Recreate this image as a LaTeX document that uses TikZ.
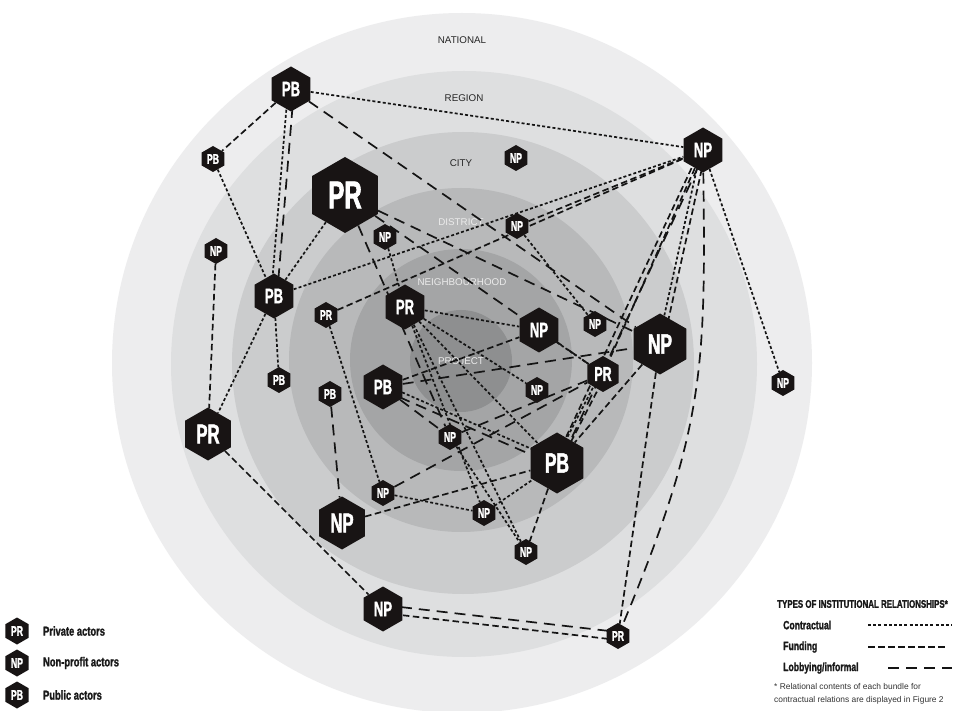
\documentclass[tikz,border=0pt]{standalone}
\usepackage{fontspec}
\setmainfont{Liberation Sans}
\newfontfamily\hexfont[FakeStretch=0.62, FakeBold=1.6]{Liberation Sans}
\newfontfamily\legfont[FakeStretch=0.72, FakeBold=1.4]{Liberation Sans}
\usetikzlibrary{shapes.geometric, positioning}
\definecolor{ringnat}{HTML}{EDEDEE}
\definecolor{ringreg}{HTML}{DEDFE0}
\definecolor{ringcity}{HTML}{CBCCCD}
\definecolor{ringdis}{HTML}{B8B9BA}
\definecolor{ringnbh}{HTML}{A4A5A6}
\definecolor{ringprj}{HTML}{8E8F90}
\definecolor{hexfill}{HTML}{181414}
\definecolor{linkcol}{HTML}{141414}
\pgfdeclarelayer{rings}
\pgfdeclarelayer{links}
\pgfsetlayers{rings,links,main}

\begin{document}
\begin{tikzpicture}[x=1pt, y=-1pt,
      hex/.style={regular polygon, regular polygon sides=6, shape border rotate=30,
                  fill=hexfill, text=white, inner sep=0pt},
      hexs/.style={hex, minimum size=26pt, font=\hexfont\bfseries\fontsize{14}{14}\selectfont},
      hexr/.style={hex, minimum size=36pt, font=\hexfont\bfseries\fontsize{20}{20}\selectfont},
      hexm/.style={hex, minimum size=45pt, font=\hexfont\bfseries\fontsize{21}{21}\selectfont},
      hexl/.style={hex, minimum size=53pt, font=\hexfont\bfseries\fontsize{27}{27}\selectfont},
      hexxl/.style={hex, minimum size=61pt, font=\hexfont\bfseries\fontsize{28}{28}\selectfont},
      hexxxl/.style={hex, minimum size=76pt, font=\hexfont\bfseries\fontsize{39}{39}\selectfont},
      link/.style={line width=1.7pt, linkcol},
      contract/.style={link, dash pattern=on 3pt off 2.2pt},
      fund/.style={link, dash pattern=on 6.5pt off 3.5pt},
      lobby/.style={link, dash pattern=on 11pt off 7pt},
      ringdark/.style={font=\fontsize{9.8}{10}\selectfont, text=black!85},
      ringlight/.style={font=\fontsize{9.8}{10}\selectfont, text=white!92!black},
      legtext/.style={font=\legfont\bfseries\fontsize{13}{13}\selectfont, text=black!90,
                      inner sep=0pt, anchor=west},
      reltext/.style={legtext, font=\legfont\bfseries\fontsize{12}{12}\selectfont}
    ]
  \useasboundingbox (0,0) rectangle (970,711);
  \begin{pgfonlayer}{rings}
    \fill[white] (0,0) rectangle (970,711);
    \fill[ringnat] (462,363) circle[radius=350pt];
    \fill[ringreg] (464,364) circle[radius=293pt];
    \fill[ringcity] (463,363) circle[radius=231pt];
    \fill[ringdis] (461,360) circle[radius=172pt];
    \fill[ringnbh] (461,360) circle[radius=111pt];
    \fill[ringprj] (461,361) circle[radius=51pt];
    \node[ringdark] (labNat) at (462,40) {NATIONAL};
    \node[ringdark] (labReg) at (464,98) {REGION};
    \node[ringdark] (labCity) at (461,163) {CITY};
    \node[ringlight] (labDis) at (461,222) {DISTRICT};
    \node[ringlight] (labNbh) at (462,282) {NEIGHBOURHOOD};
    \node[ringlight] (labPrj) at (461,361) {PROJECT};
  \end{pgfonlayer}

  \node[hexm] (pbNatA) at (291,89) {PB};
  \node[hexs] (pbNatB) at (213,159) {PB};
  \node[hexm] (npNatA) at (703,150) {NP};
  \node[hexs] (npNatB) at (783,383) {NP};
  \node[hexs] (prNatA) at (618,636) {PR};
  \node[hexs] (npRegA) at (216,251) {NP};
  \node[hexl] (prRegA) at (208,434) {PR};
  \node[hexm] (npRegB) at (383,609) {NP};
  \node[hexxxl] (prCityA) at (345,195) {PR};
  \node[hexs] (npCityA) at (516,158) {NP};
  \node[hexm] (pbCityA) at (274,296) {PB};
  \node[hexxl] (npCityB) at (660,344) {NP};
  \node[hexl] (npCityC) at (342,523) {NP};
  \node[hexs] (npCityD) at (526,552) {NP};
  \node[hexs] (pbCityB) at (279,380) {PB};
  \node[hexs] (npDisA) at (517,226) {NP};
  \node[hexs] (npDisB) at (385,237) {NP};
  \node[hexs] (prDisA) at (326,315) {PR};
  \node[hexs] (pbDisA) at (330,394) {PB};
  \node[hexs] (npDisC) at (595,324) {NP};
  \node[hexxl] (pbDisB) at (557,463) {PB};
  \node[hexs] (npDisD) at (383,493) {NP};
  \node[hexs] (npDisE) at (484,513) {NP};
  \node[hexr] (prDisB) at (603,374) {PR};
  \node[hexm] (prNbhA) at (405,307) {PR};
  \node[hexm] (npNbhA) at (539,330) {NP};
  \node[hexm] (pbNbhA) at (383,387) {PB};
  \node[hexs] (npNbhB) at (537,390) {NP};
  \node[hexs] (npNbhC) at (450,437) {NP};

  \begin{pgfonlayer}{links}
    \draw[contract] (pbNatA) -- (npNatA);
    \draw[contract] ([xshift=-3pt]pbNatA.center) -- ([xshift=-3pt]pbCityA.center);
    \draw[lobby] ([xshift=3pt]pbNatA.center) -- ([xshift=3pt]pbCityA.center);
    \draw[fund] (pbNatA) -- (pbNatB);
    \draw[lobby] (pbNatA) -- (npCityB);
    \draw[contract] (pbNatB) -- (pbCityA);
    \draw[fund] (npRegA) -- (prRegA);
    \draw[contract] (pbCityA) -- (prRegA);
    \draw[contract] (pbCityA) -- (pbCityB);
    \draw[contract] (pbCityA) -- (npNatA);
    \draw[fund] (prDisA) -- (npNatA);
    \draw[fund] (npDisA) -- (npNatA);
    \draw[contract] (prCityA) -- (pbCityA);
    \draw[lobby] (prCityA) -- (npNbhC);
    \draw[lobby] (prCityA) -- (npCityB);
    \draw[lobby] (prCityA) -- (prDisB);
    \draw[contract] (npDisB) -- (prNbhA);
    \draw[contract] (prNbhA) -- (npNbhA);
    \draw[contract] (prNbhA) -- (npNbhB);
    \draw[contract] (prNbhA) -- (pbDisB);
    \draw[contract] (prNbhA) -- (npDisE);
    \draw[contract] (prNbhA) -- (npCityD);
    \draw[contract] (prDisA) -- (npDisD);
    \draw[contract] (npDisA) -- (npDisC);
    \draw[contract] (npNatA) -- (npNatB);
    \draw[contract] ([xshift=-2pt]npNatA.center) -- ([xshift=-2pt]npCityB.center);
    \draw[fund] ([xshift=3pt]npNatA.center) -- ([xshift=3pt]npCityB.center);
    \draw[fund] (npNatA) -- (prDisB);
    \draw[fund] ([xshift=-3pt]npNatA.center) -- ([xshift=-3pt]pbDisB.center);
    \draw[lobby] ([xshift=3pt]npNatA.center) -- ([xshift=3pt]pbDisB.center);
    \draw[lobby] (npNatA) .. controls (706,370) and (704,430) .. (prNatA);
    \draw[fund] (npCityB) -- (prNatA);
    \draw[fund] (npCityB) -- (pbDisB);
    \draw[lobby] ([yshift=4pt]npRegB.center) -- ([yshift=4pt]prNatA.center);
    \draw[fund] ([yshift=-4pt]npRegB.center) -- ([yshift=-4pt]prNatA.center);
    \draw[fund] (prRegA) -- (npRegB);
    \draw[lobby] (pbNbhA) -- (npCityB);
    \draw[fund] (pbNbhA) -- (npNbhA);
    \draw[contract] ([yshift=3pt]pbNbhA.center) -- ([yshift=3pt]pbDisB.center);
    \draw[lobby] ([yshift=-3pt]pbNbhA.center) -- ([yshift=-3pt]pbDisB.center);
    \draw[lobby] (pbNbhA) -- (npNbhC);
    \draw[contract] (npNbhA) -- (prDisB);
    \draw[contract] ([xshift=-3pt]prDisB.center) -- ([xshift=-3pt]pbDisB.center);
    \draw[fund] ([xshift=3pt]prDisB.center) -- ([xshift=3pt]pbDisB.center);
    \draw[lobby] (npDisD) -- (prDisB);
    \draw[lobby] (npNbhC) -- (prDisB);
    \draw[contract] (npDisD) -- (npDisE);
    \draw[contract] (npDisE) -- (pbDisB);
    \draw[contract] (npNbhC) -- (npCityD);
    \draw[fund] (npCityC) -- (pbDisB);
    \draw[fund] (pbDisB) -- (npCityD);
    \draw[lobby] (pbDisA) -- (npCityC);
  \end{pgfonlayer}

  \node[hexs, minimum size=27pt] (lgPR) at (17,631) {PR};
  \node[hexs, minimum size=27pt] (lgNP) at (17,663) {NP};
  \node[hexs, minimum size=27pt] (lgPB) at (17,695) {PB};
  \node[legtext, right=14pt of lgPR] (lgPRtxt) {Private actors};
  \node[legtext, right=14pt of lgNP] (lgNPtxt) {Non-profit actors};
  \node[legtext, right=14pt of lgPB] (lgPBtxt) {Public actors};

  \node[legtext, font=\legfont\bfseries\fontsize{11}{11}\selectfont] (relTitle) at (777,604)
    {TYPES OF INSTITUTIONAL RELATIONSHIPS*};
  \node[reltext] (relCon) at (783,625) {Contractual};
  \node[reltext] (relFund) at (783,647) {Funding};
  \node[reltext] (relLob) at (783,668) {Lobbying/informal};
  \coordinate (conA) at (868,625);
  \coordinate (conB) at (952,625);
  \coordinate (fundA) at (868,647);
  \coordinate (fundB) at (946,647);
  \coordinate (lobA) at (888,668);
  \coordinate (lobB) at (952,668);
  \draw[contract] (conA) -- (conB);
  \draw[fund] (fundA) -- (fundB);
  \draw[lobby] (lobA) -- (lobB);
  \node[anchor=west, align=left, inner sep=0pt, font=\fontsize{8.4}{13}\selectfont, text=black!80]
    (relNote) at (774,693.5)
    {* Relational contents of each bundle for\\contractual relations are displayed in Figure 2};
\end{tikzpicture}
\end{document}
